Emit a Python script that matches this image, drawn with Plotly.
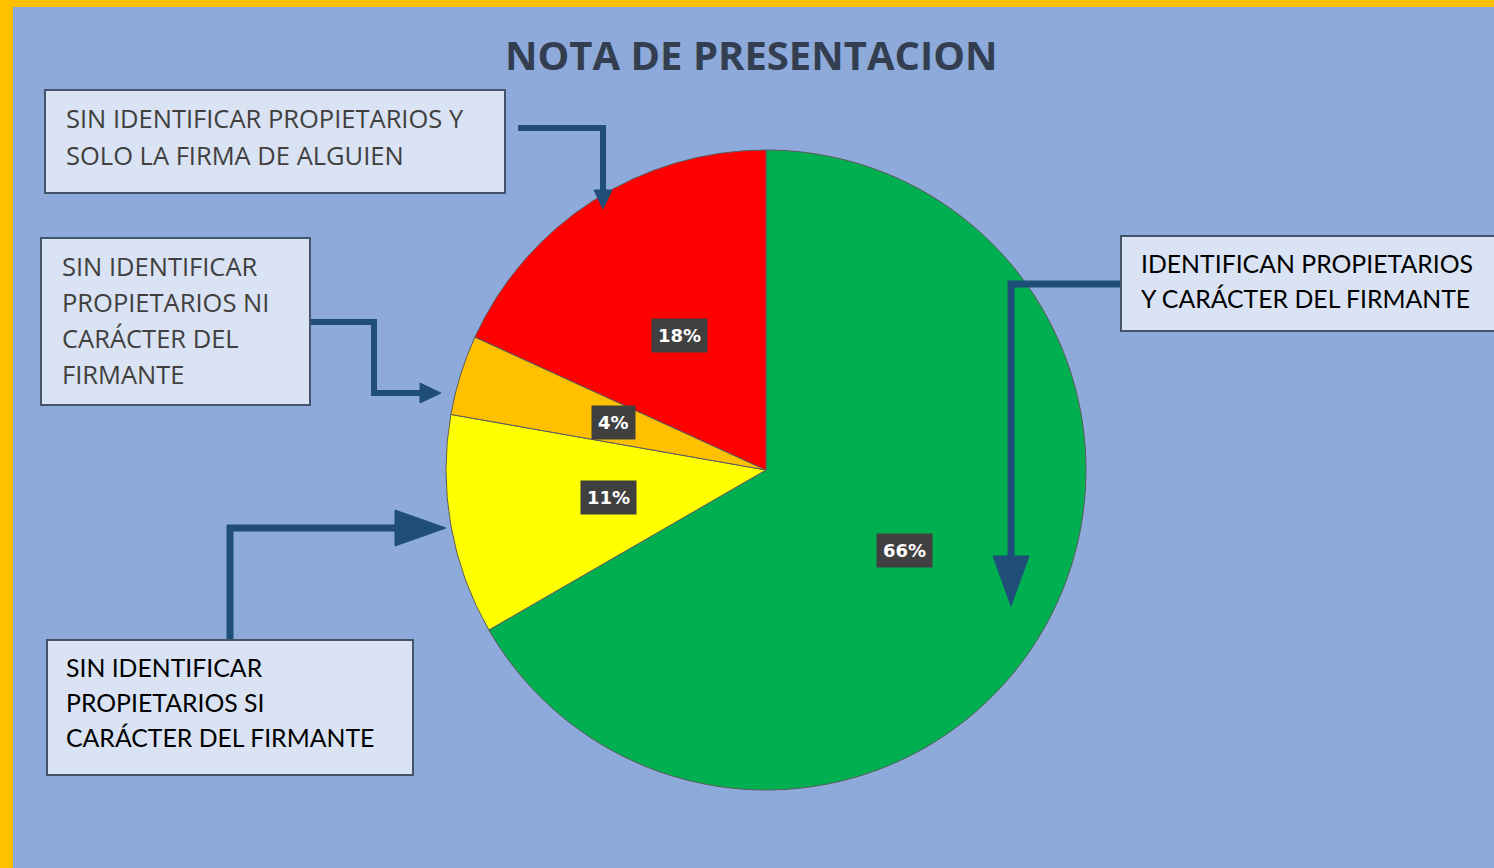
import math
import plotly.graph_objects as go

# ---------------- data ----------------
categories = [
    "IDENTIFICAN PROPIETARIOS Y CARÁCTER DEL FIRMANTE",
    "SIN IDENTIFICAR PROPIETARIOS SI CARÁCTER DEL FIRMANTE",
    "SIN IDENTIFICAR PROPIETARIOS NI CARÁCTER DEL FIRMANTE",
    "SIN IDENTIFICAR PROPIETARIOS Y SOLO LA FIRMA DE ALGUIEN",
]
values = [66, 11, 4, 18]
pct_labels = ["66%", "11%", "4%", "18%"]
colors = ["#00B050", "#FFFF00", "#FFC000", "#FF0000"]
title = "NOTA DE PRESENTACION"

# ---------------- layout helpers ----------------
W, H = 1494, 868
CX, CY, R = 766, 470, 320  # pie centre / radius in pixels


def px(x):
    return x / W


def py(y):
    return 1 - y / H


BG = "#8EAADB"
GOLD = "#FFC000"
ARROW = "#1F4E79"
BOX_FILL = "#DAE3F3"
BOX_LINE = "#44546A"

fig = go.Figure()
fig.add_trace(go.Pie(
    labels=categories,
    values=values,
    sort=False,
    direction="clockwise",
    rotation=0,
    marker=dict(colors=colors, line=dict(color="#5A5A5A", width=1)),
    textinfo="none",
    hovertemplate="%{label}<br>%{value}%<extra></extra>",
    showlegend=False,
    domain=dict(x=[px(CX - R), px(CX + R)], y=[py(CY + R), py(CY - R)]),
))

shapes = []
annotations = []

# gold frame (left and top)
shapes.append(dict(type="rect", xref="paper", yref="paper", x0=0, x1=px(13), y0=0, y1=1,
                   fillcolor=GOLD, line=dict(width=0), layer="above"))
shapes.append(dict(type="rect", xref="paper", yref="paper", x0=0, x1=1, y0=py(7), y1=1,
                   fillcolor=GOLD, line=dict(width=0), layer="above"))

# title
annotations.append(dict(text="<b>" + title + "</b>", x=px(751), y=py(55), xref="paper", yref="paper",
                        showarrow=False, xanchor="center", yanchor="middle",
                        font=dict(family="Open Sans", size=40, color="#333F50")))

# percentage labels, placed at half radius along each slice's mid-angle
total = sum(values)
cum = 0
for v, lab in zip(values, pct_labels):
    mid = (cum + v / 2) / total * 2 * math.pi
    cum += v
    lx = CX + 0.5 * R * math.sin(mid)
    ly = CY - 0.5 * R * math.cos(mid)
    annotations.append(dict(text="<b>" + lab + "</b>", x=px(lx), y=py(ly), xref="paper", yref="paper",
                            showarrow=False, xanchor="center", yanchor="middle",
                            bgcolor="#404040", borderpad=6,
                            font=dict(family="DejaVu Sans", size=18, color="white")))


def polyline(pts, width):
    d = "M " + " L ".join(f"{px(x)},{py(y)}" for x, y in pts)
    shapes.append(dict(type="path", xref="paper", yref="paper", path=d,
                       line=dict(color=ARROW, width=width), layer="above"))


def tri(pts):
    d = "M " + " L ".join(f"{px(x)},{py(y)}" for x, y in pts) + " Z"
    shapes.append(dict(type="path", xref="paper", yref="paper", path=d,
                       fillcolor=ARROW, line=dict(color=ARROW, width=1), layer="above"))


# arrows
polyline([(518, 128), (603, 128), (603, 195)], 6)
tri([(594, 190), (612, 190), (603, 209)])

polyline([(310, 322), (374, 322), (374, 393), (425, 393)], 6)
tri([(420, 383), (420, 403), (441, 393)])

polyline([(230, 640), (230, 528), (400, 528)], 7)
tri([(395, 510), (395, 546), (446, 528)])

polyline([(1122, 284), (1011, 284), (1011, 560)], 7)
tri([(993, 556), (1029, 556), (1011, 606)])


def box(x0, y0, x1, y1, lines, color, family, size, tx, ty, gap):
    shapes.append(dict(type="rect", xref="paper", yref="paper", x0=px(x0), x1=px(x1), y0=py(y1), y1=py(y0),
                       fillcolor=BOX_FILL, line=dict(color=BOX_LINE, width=2), layer="above"))
    for i, t in enumerate(lines):
        annotations.append(dict(text=t, x=px(tx), y=py(ty + i * gap), xref="paper", yref="paper",
                                showarrow=False, xanchor="left", yanchor="middle",
                                font=dict(family=family, size=size, color=color)))


box(45, 90, 505, 193, ["SIN IDENTIFICAR PROPIETARIOS Y", "SOLO LA FIRMA DE ALGUIEN"],
    "#404040", "Open Sans", 25.5, 64, 118, 37)
box(41, 238, 310, 405, ["SIN IDENTIFICAR", "PROPIETARIOS NI", "CARÁCTER DEL", "FIRMANTE"],
    "#404040", "Open Sans", 25.5, 60, 266, 36)
box(47, 640, 413, 775, ["SIN IDENTIFICAR", "PROPIETARIOS SI", "CARÁCTER DEL FIRMANTE"],
    "#000000", "Lato", 24.8, 64, 667, 35)
box(1121, 236, 1500, 331, ["IDENTIFICAN PROPIETARIOS", "Y CARÁCTER DEL FIRMANTE"],
    "#000000", "Lato", 24.8, 1139, 263, 35)

fig.update_layout(
    width=W, height=H,
    margin=dict(l=0, r=0, t=0, b=0),
    paper_bgcolor=BG, plot_bgcolor=BG,
    shapes=shapes, annotations=annotations,
    showlegend=False,
)

fig.write_html("out.html", config={"displayModeBar": False},
               post_script="document.body.style.margin='0';document.body.style.overflow='hidden';")
